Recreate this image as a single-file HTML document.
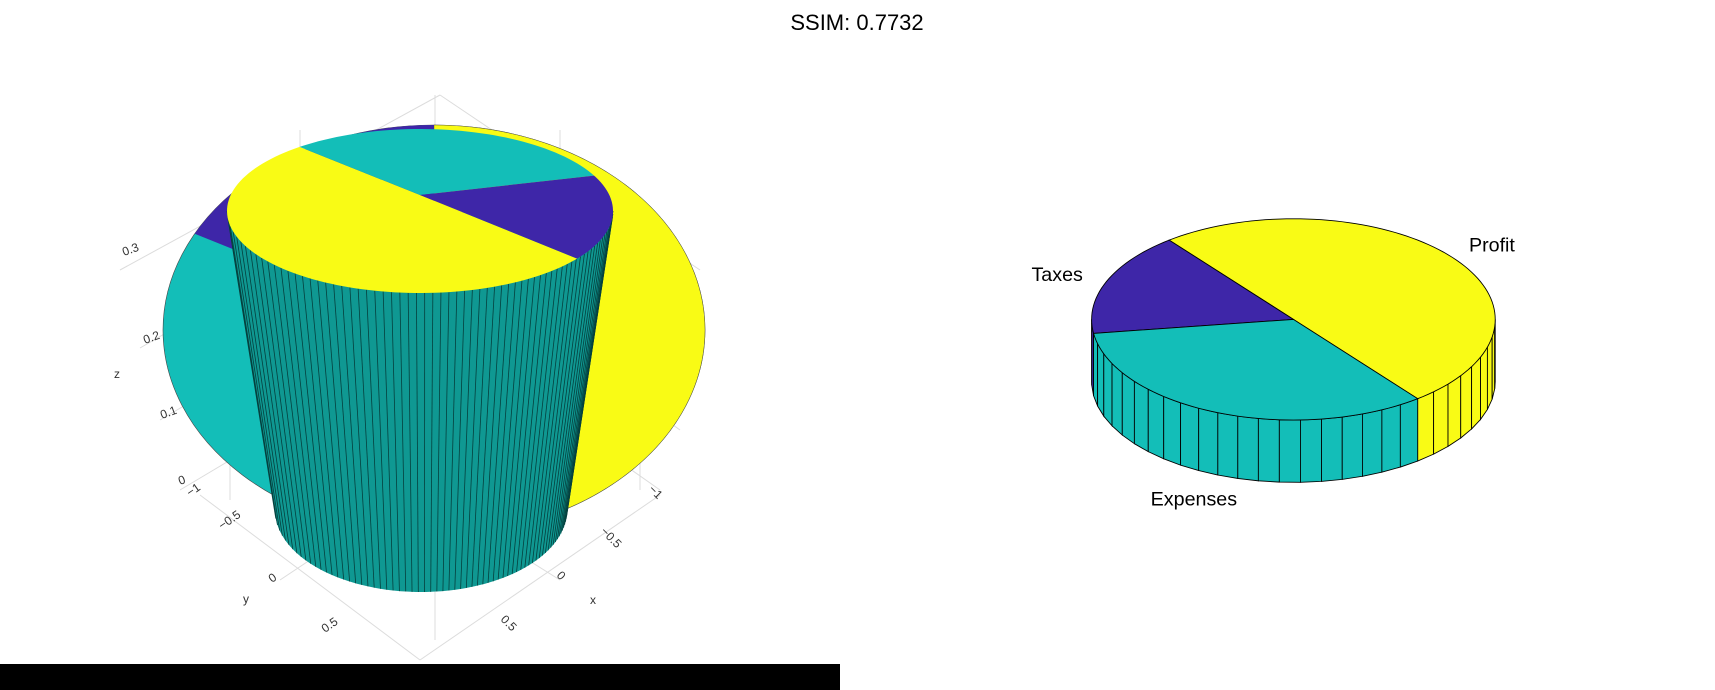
<!DOCTYPE html>
<html><head><meta charset="utf-8"><style>
html,body{margin:0;padding:0;background:#fff;}
svg{display:block;font-family:"Liberation Sans",sans-serif;}
</style></head><body>
<svg id="s" width="1715" height="690" viewBox="0 0 1715 690">
<text x="857" y="30" text-anchor="middle" font-size="22" fill="#000">SSIM: 0.7732</text>
<g id="left"></g>
<g id="right" transform="scale(1.0938)"></g>
<rect x="0" y="664" width="840" height="26" fill="#000"/>
</svg>
<script>
const labels = ["Taxes", "Expenses", "Profit"];
const values = [1, 2, 3];
const NS = "http://www.w3.org/2000/svg";
function mk(tag, attrs, parent){const e=document.createElementNS(NS,tag);for(const k in attrs)e.setAttribute(k,attrs[k]);parent.appendChild(e);return e;}
const colors = {Taxes:"#3e26a8", Expenses:"#13beb8", Profit:"#f9fb15"};

// ---------- right: 3D pie ----------
const R = document.getElementById('right');
const cx=1182.5, cy=292, rx=184.5, ry=92, depth=57;
const total = values.reduce((a,b)=>a+b,0);
const order = ["Profit","Taxes","Expenses"];
let startAng = 308;
const slices=[];
order.forEach(n=>{const v=values[labels.indexOf(n)];const sweep=v/total*360;slices.push({n,a0:startAng,a1:startAng+sweep});startAng+=sweep;});
function pt(a,dy){const r=a*Math.PI/180;return [cx+rx*Math.cos(r), cy-ry*Math.sin(r)+(dy||0)];}
slices.forEach(s=>{
  for(let a=s.a0;a<s.a1-0.01;a+=6){
    const b=Math.min(a+6,s.a1);
    const na=((a%360)+360)%360, nb=na+(b-a);
    let lo=Math.max(na,180), hi=Math.min(nb,360);
    if(hi<=lo) continue;
    const p1=pt(lo),p2=pt(hi),p3=pt(hi,depth),p4=pt(lo,depth);
    const side=mk('path',{d:`M${p1}L${p2}L${p3}L${p4}Z`,fill:colors[s.n],stroke:"#000","stroke-width":0.8},R);
    
    
  }
});
slices.forEach(s=>{
  let d=`M${cx},${cy}`;
  for(let a=s.a0;a<=s.a1+0.001;a+=2){d+=`L${pt(Math.min(a,s.a1))}`;}
  d+=`L${pt(s.a1)}Z`;
  const w=mk('path',{d,fill:colors[s.n],stroke:"#000","stroke-width":0.8},R);
  
  
});
const labPos={Taxes:[943,257],Profit:[1343,230],Expenses:[1052,462]};
labels.forEach(n=>{
  const t=mk('text',{x:labPos[n][0],y:labPos[n][1],"font-size":18,fill:"#000"},R);
  t.textContent=n;
  
  
});

// ---------- left: 3D view ----------
const L=document.getElementById('left');
function ep(c,rxx,ryy,a){const r=a*Math.PI/180;return [c[0]+rxx*Math.cos(r), c[1]-ryy*Math.sin(r)];}
function arc(c,rxx,ryy,a0,a1){let d="";const st=a1>a0?2:-2;for(let a=a0;st>0?a<=a1:a>=a1;a+=st)d+=`L${ep(c,rxx,ryy,a)}`;return d+`L${ep(c,rxx,ryy,a1)}`;}
const grid=[[120,270,440,95],[140,348,440,175],[160,420,440,255],[180,490,440,335],[440,95,700,270],[440,175,690,350],[440,255,680,430],[440,335,660,490],
[300,130,300,520],[230,210,230,500],[435,95,435,640],[560,130,560,520],[640,210,640,490],[200,495,420,660],[280,580,310,560],[420,660,660,495],[560,580,520,555]];
grid.forEach(g=>{const l=mk('line',{x1:g[0],y1:g[1],x2:g[2],y2:g[3],stroke:"#dcdcdc","stroke-width":1},L);});
const bc=[434,330], brx=271, bry=205;
const base=mk('ellipse',{cx:bc[0],cy:bc[1],rx:brx,ry:bry,fill:colors.Expenses,stroke:"#444","stroke-width":0.6},L);

const by=mk('path',{d:`M${bc}`+arc(bc,brx,bry,90,-75)+"Z",fill:colors.Profit,stroke:"#444","stroke-width":0.4},L);

const bi=mk('path',{d:`M${bc}`+arc(bc,brx,bry,90,152)+"Z",fill:colors.Taxes},L);

const tc=[420,211], trx=193, tryy=82;
const botc=[421,510], brx2=146, bry2=82;
const body=mk('path',{d:`M227,212L613,212L567,508`+arc(botc,brx2,bry2,0,-180)+"Z",fill:"#0f9892"},L);

for(let i=0;i<=70;i++){
  const u=i/70;
  const a=180+180*Math.pow(u,0.8);
  const t=ep(tc,trx,tryy,a), b=ep(botc,brx2,bry2,a);
  const l=mk('line',{x1:t[0],y1:t[1],x2:b[0],y2:b[1],stroke:"#05403e","stroke-width":0.8},L);
  
}
const hub=[420,195];
const aY0=-35.5, aC0=128.6, aI0=25.6;
const topY=mk('path',{d:`M${hub}`+arc(tc,trx,tryy,aC0,aY0+360)+"Z",fill:colors.Profit},L);

const topC=mk('path',{d:`M${hub}`+arc(tc,trx,tryy,aI0,aC0)+"Z",fill:colors.Expenses},L);

const topI=mk('path',{d:`M${hub}`+arc(tc,trx,tryy,aY0,aI0)+"Z",fill:colors.Taxes},L);

const ticks=[["0.3",124,256,-20],["0.2",145,344,-20],["0.1",162,419,-20],["0",180,485,-20],["z",114,378,0],
["−1",190,497,-35],["−0.5",222,530,-35],["0",272,583,-35],["0.5",325,633,-35],["y",243,603,0],
["−1",648,490,45],["−0.5",600,532,45],["0",556,576,45],["0.5",500,620,45],["x",590,604,0]];
ticks.forEach(t=>{const e=mk('text',{x:t[1],y:t[2],"font-size":12,fill:"#333",transform:`rotate(${t[3]} ${t[1]} ${t[2]})`},L);e.textContent=t[0];});
</script>
</body></html>
